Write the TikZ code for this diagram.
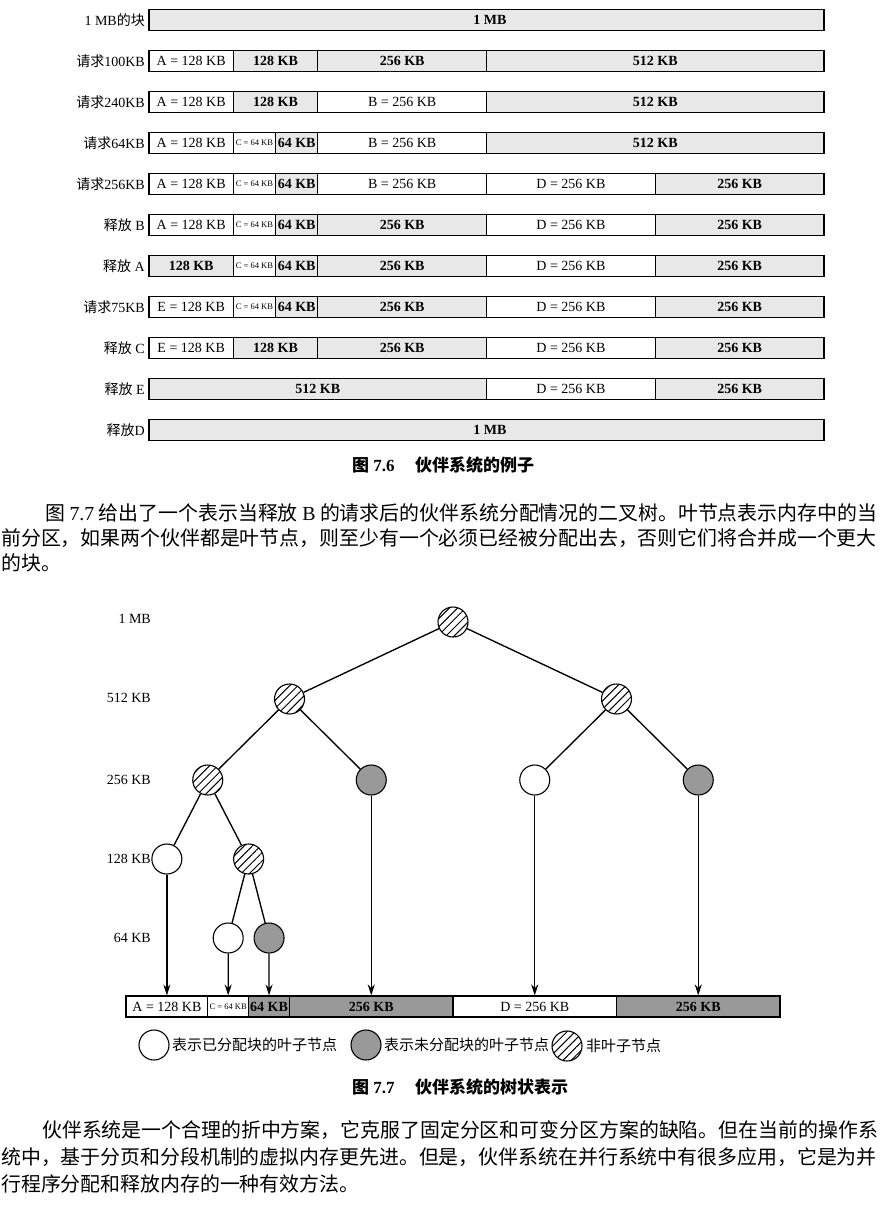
\documentclass[tikz,border=0pt]{standalone}
\usepackage{fontspec}
\setmainfont{Liberation Serif}
\newfontfamily\cjk{Noto Sans CJK SC}
\usetikzlibrary{arrows.meta,patterns.meta}
% name, x0, W, startKB, sizeKB, y, style, text
\newcommand\mblk[8]{%
  \node[#7, minimum width={(#5)/1024*(#3)}, minimum height=21, inner sep=0pt]
    (#1) at ({#2+((#4)+(#5)/2)/1024*(#3)}, #6) {#8};}
\newcommand\rowA[3]{\mblk{#1}{149}{675}{#2}{#3}}
\tikzset{
  freeb/.style={draw, line width=1.1pt, fill=black!9, font=\fontsize{14}{14}\selectfont\bfseries},
  usedb/.style={draw, line width=1.1pt, fill=white, font=\fontsize{14}{14}\selectfont},
  tinyb/.style={draw, line width=1.1pt, fill=white, font=\fontsize{8.5}{8.5}\selectfont},
  darkb/.style={draw, line width=1.1pt, fill=black!40, font=\fontsize{14}{14}\selectfont\bfseries},
  rowlab/.style={anchor=east, inner sep=0pt, font=\fontsize{14}{14}\selectfont},
  lvl/.style={anchor=east, inner sep=0pt, font=\fontsize{14}{14}\selectfont},
  tnode/.style={circle, draw, line width=1.1pt, minimum size=30pt, inner sep=0pt},
  hatchn/.style={tnode, pattern={Lines[angle=45,distance=5.8pt,line width=1pt]}},
  grayn/.style={tnode, fill=black!40},
  whiten/.style={tnode, fill=white},
  edge/.style={line width=1.35pt},
  arr/.style={line width=1.35pt, -{Stealth[length=11pt,width=7pt]}},
  para/.style={anchor=west, inner sep=0pt, font=\cjk\fontsize{19.9}{20}\selectfont},
  capt/.style={anchor=west, inner sep=0pt, font=\fontsize{17}{17}\selectfont\bfseries},
  legt/.style={anchor=west, inner sep=0pt, font=\cjk\fontsize{15}{15}\selectfont},
}
\begin{document}
\begin{tikzpicture}[x=1pt,y=-1pt]
\useasboundingbox (0,0) rectangle (893,1205);
% ---------- Figure 7.6 ----------
\node[rowlab] (lab0) at (145,20) {1 MB{\cjk 的块}};
\rowA{r0a}{0}{1024}{20}{freeb}{\hspace*{7pt}1 MB}
\node[rowlab] (lab1) at (145,61) {{\cjk 请求}100KB};
\rowA{r1a}{0}{128}{61}{usedb}{A = 128 KB}
\rowA{r1b}{128}{128}{61}{freeb}{128 KB}
\rowA{r1c}{256}{256}{61}{freeb}{256 KB}
\rowA{r1d}{512}{512}{61}{freeb}{512 KB}
\node[rowlab] (lab2) at (145,102) {{\cjk 请求}240KB};
\rowA{r2a}{0}{128}{102}{usedb}{A = 128 KB}
\rowA{r2b}{128}{128}{102}{freeb}{128 KB}
\rowA{r2c}{256}{256}{102}{usedb}{B = 256 KB}
\rowA{r2d}{512}{512}{102}{freeb}{512 KB}
\node[rowlab] (lab3) at (145,143) {{\cjk 请求}64KB};
\rowA{r3a}{0}{128}{143}{usedb}{A = 128 KB}
\rowA{r3b}{128}{64}{143}{tinyb}{C = 64 KB}
\rowA{r3c}{192}{64}{143}{freeb}{64 KB}
\rowA{r3d}{256}{256}{143}{usedb}{B = 256 KB}
\rowA{r3e}{512}{512}{143}{freeb}{512 KB}
\node[rowlab] (lab4) at (145,184) {{\cjk 请求}256KB};
\rowA{r4a}{0}{128}{184}{usedb}{A = 128 KB}
\rowA{r4b}{128}{64}{184}{tinyb}{C = 64 KB}
\rowA{r4c}{192}{64}{184}{freeb}{64 KB}
\rowA{r4d}{256}{256}{184}{usedb}{B = 256 KB}
\rowA{r4e}{512}{256}{184}{usedb}{D = 256 KB}
\rowA{r4f}{768}{256}{184}{freeb}{256 KB}
\node[rowlab] (lab5) at (145,225) {{\cjk 释放} B};
\rowA{r5a}{0}{128}{225}{usedb}{A = 128 KB}
\rowA{r5b}{128}{64}{225}{tinyb}{C = 64 KB}
\rowA{r5c}{192}{64}{225}{freeb}{64 KB}
\rowA{r5d}{256}{256}{225}{freeb}{256 KB}
\rowA{r5e}{512}{256}{225}{usedb}{D = 256 KB}
\rowA{r5f}{768}{256}{225}{freeb}{256 KB}
\node[rowlab] (lab6) at (145,266) {{\cjk 释放} A};
\rowA{r6a}{0}{128}{266}{freeb}{128 KB}
\rowA{r6b}{128}{64}{266}{tinyb}{C = 64 KB}
\rowA{r6c}{192}{64}{266}{freeb}{64 KB}
\rowA{r6d}{256}{256}{266}{freeb}{256 KB}
\rowA{r6e}{512}{256}{266}{usedb}{D = 256 KB}
\rowA{r6f}{768}{256}{266}{freeb}{256 KB}
\node[rowlab] (lab7) at (145,307) {{\cjk 请求}75KB};
\rowA{r7a}{0}{128}{307}{usedb}{E = 128 KB}
\rowA{r7b}{128}{64}{307}{tinyb}{C = 64 KB}
\rowA{r7c}{192}{64}{307}{freeb}{64 KB}
\rowA{r7d}{256}{256}{307}{freeb}{256 KB}
\rowA{r7e}{512}{256}{307}{usedb}{D = 256 KB}
\rowA{r7f}{768}{256}{307}{freeb}{256 KB}
\node[rowlab] (lab8) at (145,348) {{\cjk 释放} C};
\rowA{r8a}{0}{128}{348}{usedb}{E = 128 KB}
\rowA{r8b}{128}{128}{348}{freeb}{128 KB}
\rowA{r8c}{256}{256}{348}{freeb}{256 KB}
\rowA{r8d}{512}{256}{348}{usedb}{D = 256 KB}
\rowA{r8e}{768}{256}{348}{freeb}{256 KB}
\node[rowlab] (lab9) at (145,389) {{\cjk 释放} E};
\rowA{r9a}{0}{512}{389}{freeb}{512 KB}
\rowA{r9b}{512}{256}{389}{usedb}{D = 256 KB}
\rowA{r9c}{768}{256}{389}{freeb}{256 KB}
\node[rowlab] (lab10) at (145,430) {{\cjk 释放}D};
\rowA{r10a}{0}{1024}{430}{freeb}{\hspace*{7pt}1 MB}
\node[capt] (cap6) at (352,465) {{\cjk 图} 7.6\hspace{1.2em}{\cjk 伙伴系统的例子}};
% ---------- paragraph 1 ----------
\node[para] (p1a) at (45,513) {\makebox[832pt][s]{图 {\rmfamily 7.7} 给出了一个表示当释放 {\rmfamily B} 的请求后的伙伴系统分配情况的二叉树。叶节点表示内存中的当}};
\node[para] (p1b) at (1,538) {前分区，如果两个伙伴都是叶节点，则至少有一个必须已经被分配出去，否则它们将合并成一个更大};
\node[para] (p1c) at (1,563) {的块。};
% ---------- Figure 7.7 ----------
\node[lvl] (v1) at (151,619) {1 MB};
\node[lvl] (v2) at (151,698) {512 KB};
\node[lvl] (v3) at (151,780) {256 KB};
\node[lvl] (v4) at (151,859) {128 KB};
\node[lvl] (v5) at (151,938) {64 KB};
\node[hatchn] (root) at (453,622) {};
\node[hatchn] (nL) at (289.5,699) {};
\node[hatchn] (nR) at (616.5,699) {};
\node[hatchn] (nLL) at (207.75,780) {};
\node[grayn] (nLR) at (371.25,780) {};
\node[whiten] (nRL) at (534.75,780) {};
\node[grayn] (nRR) at (698.25,780) {};
\node[whiten] (nLLL) at (166.875,859) {};
\node[hatchn] (nLLR) at (248.625,859) {};
\node[whiten] (nLLRL) at (228.19,938) {};
\node[grayn] (nLLRR) at (269.06,938) {};
\draw[edge] (root) -- (nL);
\draw[edge] (root) -- (nR);
\draw[edge] (nL) -- (nLL);
\draw[edge] (nL) -- (nLR);
\draw[edge] (nR) -- (nRL);
\draw[edge] (nR) -- (nRR);
\draw[edge] (nLL) -- (nLLL);
\draw[edge] (nLL) -- (nLLR);
\draw[edge] (nLLR) -- (nLLRL);
\draw[edge] (nLLR) -- (nLLRR);
\mblk{ta}{126}{654}{0}{128}{1006.5}{usedb}{A = 128 KB}
\mblk{tb}{126}{654}{128}{64}{1006.5}{tinyb}{C = 64 KB}
\mblk{tc}{126}{654}{192}{64}{1006.5}{darkb}{64 KB}
\mblk{td}{126}{654}{256}{256}{1006.5}{darkb}{256 KB}
\mblk{te}{126}{654}{512}{256}{1006.5}{usedb}{D = 256 KB}
\mblk{tf}{126}{654}{768}{256}{1006.5}{darkb}{256 KB}
\draw[arr] (nLLL) -- (ta.north);
\draw[arr] (nLLRL) -- (tb.north);
\draw[arr] (nLLRR) -- (tc.north);
\draw[arr] (nLR) -- (td.north);
\draw[arr] (nRL) -- (te.north);
\draw[arr] (nRR) -- (tf.north);
% legend
\node[whiten] (g1) at (154,1045) {};
\node[legt] (g1t) at (172,1045) {表示已分配块的叶子节点};
\node[grayn] (g2) at (366,1045) {};
\node[legt] (g2t) at (384,1045) {表示未分配块的叶子节点};
\node[hatchn] (g3) at (567,1046) {};
\node[legt] (g3t) at (586,1046) {非叶子节点};
\node[capt] (cap7) at (352,1087) {{\cjk 图} 7.7\hspace{1.2em}{\cjk 伙伴系统的树状表示}};
% ---------- paragraph 2 ----------
\node[para] (p2a) at (42,1130) {伙伴系统是一个合理的折中方案，它克服了固定分区和可变分区方案的缺陷。但在当前的操作系};
\node[para] (p2b) at (1,1157) {统中，基于分页和分段机制的虚拟内存更先进。但是，伙伴系统在并行系统中有很多应用，它是为并};
\node[para] (p2c) at (1,1184) {行程序分配和释放内存的一种有效方法。};
\end{tikzpicture}
\end{document}
